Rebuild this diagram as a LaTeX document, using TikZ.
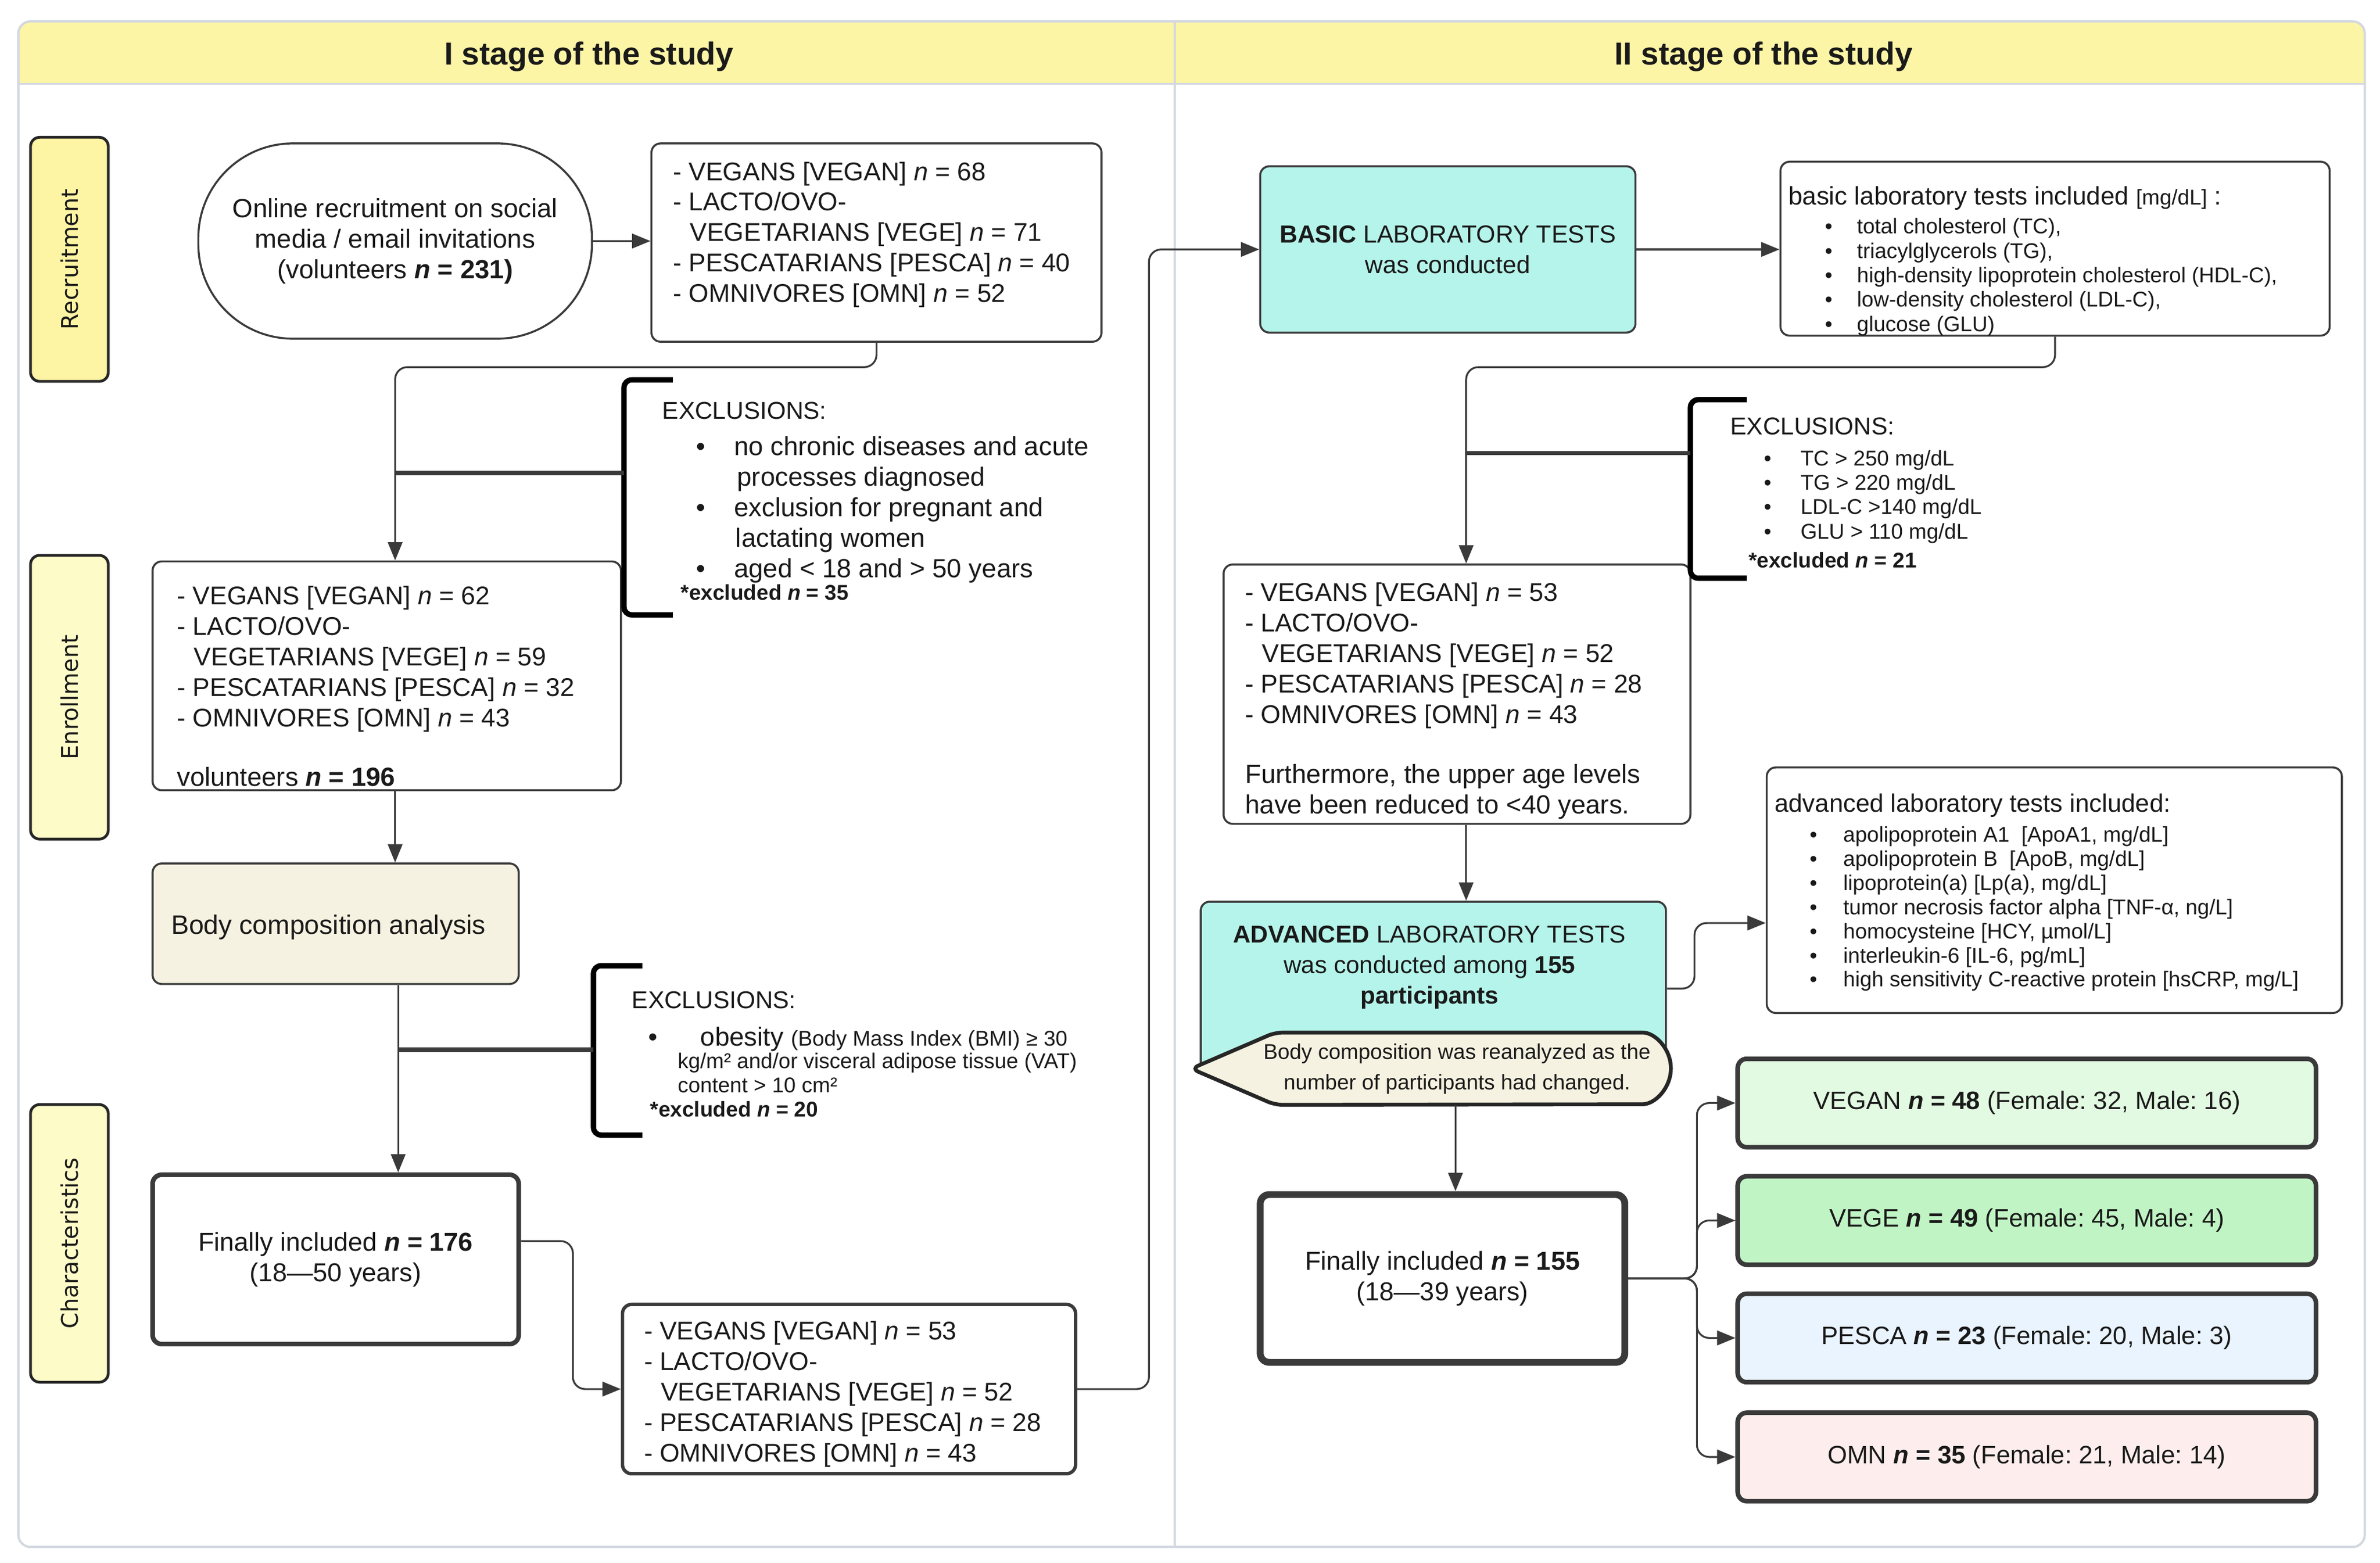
\documentclass[tikz,border=0pt]{standalone}
\usepackage{fontspec}
\setmainfont{Liberation Sans}
\newfontfamily\labfont{DejaVu Sans}
\usetikzlibrary{arrows.meta}
\frenchspacing
\newcommand{\setfs}[2]{\fontsize{#1}{#2}\selectfont}
\newcommand{\nit}{\textit{n}}
\newcommand{\mybul}[1]{\makebox[#1][l]{•}}
\definecolor{hdr}{HTML}{FDF5A6}
\definecolor{framec}{HTML}{D3D8E0}
\definecolor{sideA}{HTML}{FDF5A4}
\definecolor{sideB}{HTML}{FDFBC8}
\definecolor{lc}{HTML}{3A3A3A}
\definecolor{tc}{HTML}{1A1A1A}
\definecolor{aqua}{HTML}{B5F4EA}
\definecolor{beige}{HTML}{F6F2E1}
\definecolor{gA}{HTML}{E3FAE2}
\definecolor{gB}{HTML}{C1F4C4}
\definecolor{gC}{HTML}{EAF4FE}
\definecolor{gD}{HTML}{FDEEED}
\begin{document}
\begin{tikzpicture}[x=1pt,y=-1pt,
  box/.style={draw=lc, line width=1.3pt, rounded corners=6pt, fill=white, inner sep=0pt, text=tc},
  txt/.style={anchor=north west, inner sep=0pt, align=left, font=\setfs{17.2}{20}, yshift=7.8pt, text=tc},
  txtl/.style={anchor=north west, inner sep=0pt, align=left, font=\setfs{16.8}{20}, yshift=8pt, text=tc},
  txtc/.style={anchor=north west, inner sep=0pt, align=left, font=\setfs{16}{20}, yshift=8.3pt, text=tc},
  txts/.style={anchor=north west, inner sep=0pt, align=left, font=\setfs{14}{16}, yshift=6.2pt, text=tc},
  ctxt/.style={anchor=north, inner sep=0pt, align=center, font=\setfs{16}{20}, yshift=8.3pt, text=tc},
  cfont/.style={align=center, font=\setfs{17}{20}},
  arr/.style={draw=lc, line width=1.2pt, -{Triangle[length=12pt,width=9.5pt]}},
  brk/.style={draw=black, line width=3.5pt, rounded corners=5pt},
  thk/.style={draw=lc, line width=3pt},
  side/.style={draw=black!85, line width=1.8pt, rounded corners=6pt, rotate=90, minimum height=51pt, inner sep=0pt, font=\labfont\setfs{15}{18}, text=tc},
  grp/.style={draw=lc, line width=3pt, rounded corners=6pt, minimum width=379pt, minimum height=58pt, font=\setfs{16.5}{20}, text=tc},
  callst/.style={draw=black!85, line width=2.5pt, fill=beige, rounded corners=5pt}
]
\useasboundingbox (0,0) rectangle (1560,1024.5);
\fill[white] (0,0) rectangle (1560,1024.5);
% frame and header
\begin{scope}
\clip[rounded corners=8pt] (12,14) rectangle (1550,1014);
\fill[hdr] (12,14) rectangle (1550,55);
\end{scope}
\draw[framec, line width=1.2pt] (12,55) -- (1550,55);
\draw[framec, line width=1.2pt] (770,14) -- (770,1014);
\draw[framec, line width=1.5pt, rounded corners=8pt] (12,14) rectangle (1550,1014);
\node[font=\bfseries\setfs{20.8}{24}, text=tc] (h1) at (386,37) {I stage of the study};
\node[font=\bfseries\setfs{20.8}{24}, text=tc] (h2) at (1156,37) {II stage of the study};
% side labels
\node[side, fill=sideA, minimum width=160pt] (rec) at (45.5,170) {Recruitment};
\node[side, fill=sideB, minimum width=186pt] (enl) at (45.5,457) {Enrollment};
\node[side, fill=sideB, minimum width=182pt] (cha) at (45.5,815) {Characteristics};

% ---------- Stage I ----------
\node[box, rounded corners=62pt, minimum width=258pt, minimum height=128pt, align=center, font=\setfs{17.2}{20}] (stad) at (259,158)
  {Online recruitment on social\\ media / email invitations\\ (volunteers \textbf{\textit{n} = 231)}};
\node[box, minimum width=295pt, minimum height=130pt] (b1) at (574.5,159) {};
\node[txtl] (b1t) at (441,112) {\strut- VEGANS [VEGAN] \nit{} = 68\\ - LACTO/OVO-\\ \hspace*{11pt}VEGETARIANS [VEGE] \nit{} = 71\\ - PESCATARIANS [PESCA] \nit{} = 40\\ - OMNIVORES [OMN] \nit{} = 52};
\draw[arr] (stad.east) -- (stad.east -| b1.west);

\node[box, minimum width=307pt, minimum height=150pt] (enr) at (253.5,443) {};
\node[txtl] (enrt) at (116,390) {\strut- VEGANS [VEGAN] \nit{} = 62\\ - LACTO/OVO-\\ \hspace*{11pt}VEGETARIANS [VEGE] \nit{} = 59\\ - PESCATARIANS [PESCA] \nit{} = 32\\ - OMNIVORES [OMN] \nit{} = 43};
\node[txt] (enrv) at (116,509) {\strut volunteers \textbf{\textit{n} = 196}};
\coordinate (v1) at ([xshift=5.5pt]enr.north);
\draw[arr, rounded corners=8pt] (b1.south) -- ++(0,16) -| (v1);

\coordinate (br1) at (409,310);
\draw[brk] (441,249) -- (409,249) -- (409,403) -- (441,403);
\draw[thk] (v1 |- br1) -- (br1);
\node[txtc] (ex1t) at (434,269) {\strut EXCLUSIONS:};
\node[txt] (ex1l) at (456,292) {\strut\mybul{25pt}no chronic diseases and acute\\ \hspace*{27pt}processes diagnosed\\ \mybul{25pt}exclusion for pregnant and\\ \hspace*{26pt}lactating women\\ \mybul{25pt}aged < 18 and > 50 years};
\node[txts, font=\bfseries\setfs{14}{16}] (ex1n) at (446,388) {\strut*excluded \textit{n} = 35};

\node[box, fill=beige, minimum width=240pt, minimum height=79pt] (body) at (220,605.5) {};
\node[txt, font=\setfs{17.5}{20}] (bodyt) at (112,606) {\strut Body composition analysis};
\coordinate (v2) at ([xshift=5.5pt]enr.south);
\draw[arr] (v2) -- (v2 |- body.north);

\node[box, line width=3pt, minimum width=240pt, minimum height=111pt, cfont] (fin1) at (220,825.5)
  {Finally included \textbf{\textit{n} = 176}\\ (18—50 years)};
\coordinate (v3) at ([xshift=41pt]body.south);
\draw[arr] (v3) -- (v3 |- fin1.north);
\coordinate (br2) at (389,688);
\draw[brk] (421,633) -- (389,633) -- (389,744) -- (421,744);
\draw[thk] (v3 |- br2) -- (br2);
\node[txtc] (ex2t) at (414,655) {\strut EXCLUSIONS:};
\node[txt] (ex2a) at (425,679) {\strut\mybul{34pt}obesity {\setfs{14}{16}(Body Mass Index (BMI) ≥ 30}};
\node[txts] (ex2b) at (444,695) {\strut kg/m² and/or visceral adipose tissue (VAT)\\ content > 10 cm²};
\node[txts, font=\bfseries\setfs{14}{16}] (ex2n) at (426,727) {\strut*excluded \textit{n} = 20};

\node[box, line width=2.2pt, minimum width=297pt, minimum height=111pt] (b4) at (556.5,910.5) {};
\node[txtl] (b4t) at (422,872) {\strut- VEGANS [VEGAN] \nit{} = 53\\ - LACTO/OVO-\\ \hspace*{11pt}VEGETARIANS [VEGE] \nit{} = 52\\ - PESCATARIANS [PESCA] \nit{} = 28\\ - OMNIVORES [OMN] \nit{} = 43};
\draw[arr, rounded corners=8pt] ([yshift=12pt]fin1.east) -- ++(34,0) |- (b4.west);

% ---------- Stage II ----------
\node[box, fill=aqua, minimum width=246pt, minimum height=109pt, align=center, font=\setfs{16.2}{20}] (basic) at (949,163.5)
  {\textbf{BASIC} LABORATORY TESTS\\ was conducted};
\draw[arr, rounded corners=8pt] (b4.east) -- ++(47,0) |- (basic.west);

\node[box, minimum width=360pt, minimum height=114pt] (blt) at (1347,163) {};
\node[txt, font=\setfs{16.6}{20}] (bltt) at (1172,128) {\strut basic laboratory tests included {\setfs{14}{16}[mg/dL]} :};
\node[txts] (bltl) at (1196,148) {\strut\mybul{21pt}total cholesterol (TC),\\ \mybul{21pt}triacylglycerols (TG),\\ \mybul{21pt}high-density lipoprotein cholesterol (HDL-C),\\ \mybul{21pt}low-density cholesterol (LDL-C),\\ \mybul{21pt}glucose (GLU)};
\draw[arr] (basic.east) -- (basic.east -| blt.west);

\node[box, minimum width=306pt, minimum height=170pt] (b5) at (955,455) {};
\node[txtl] (b5t) at (816,388) {\strut- VEGANS [VEGAN] \nit{} = 53\\ - LACTO/OVO-\\ \hspace*{11pt}VEGETARIANS [VEGE] \nit{} = 52\\ - PESCATARIANS [PESCA] \nit{} = 28\\ - OMNIVORES [OMN] \nit{} = 43};
\node[txt] (b5f) at (816,507) {\strut Furthermore, the upper age levels\\ have been reduced to <40 years.};
\coordinate (v4) at ([xshift=6pt]b5.north);
\draw[arr, rounded corners=8pt] (blt.south) -- ++(0,20) -| (v4);

\coordinate (br3) at (1108,297);
\draw[brk] (1145,262) -- (1108,262) -- (1108,379) -- (1145,379);
\draw[thk] (v4 |- br3) -- (br3);
\node[txtc] (ex3t) at (1134,279) {\strut EXCLUSIONS:};
\node[txts] (ex3l) at (1156,300) {\strut\mybul{24pt}TC > 250 mg/dL\\ \mybul{24pt}TG > 220 mg/dL\\ \mybul{24pt}LDL-C >140 mg/dL\\ \mybul{24pt}GLU > 110 mg/dL};
\node[txts, font=\bfseries\setfs{14}{16}] (ex3n) at (1146,367) {\strut*excluded \textit{n} = 21};

\node[box, fill=aqua, minimum width=305pt, minimum height=114pt] (adv) at (939.5,648) {};
\node[ctxt] (advt) at (937,612) {\strut\textbf{ADVANCED} LABORATORY TESTS\\ was conducted among \textbf{155}\\ \textbf{participants}};
\coordinate (v5) at ([xshift=6pt]b5.south);
\draw[arr] (v5) -- (v5 |- adv.north);

\node[box, minimum width=377pt, minimum height=161pt] (alt) at (1346.5,583.5) {};
\node[txt, font=\setfs{16.5}{20}] (altt) at (1163,526) {\strut advanced laboratory tests included:};
\node[txts, font=\setfs{14}{15.8}] (altl) at (1186,547) {\strut\mybul{22pt}apolipoprotein A1\ \ [ApoA1, mg/dL]\\ \mybul{22pt}apolipoprotein B\ \ [ApoB, mg/dL]\\ \mybul{22pt}lipoprotein(a) [Lp(a), mg/dL]\\ \mybul{22pt}tumor necrosis factor alpha [TNF-α, ng/L]\\ \mybul{22pt}homocysteine [HCY, µmol/L]\\ \mybul{22pt}interleukin-6 [IL-6, pg/mL]\\ \mybul{22pt}high sensitivity C-reactive protein [hsCRP, mg/L]};
\draw[arr, rounded corners=8pt] (adv.east) -- ++(18,0) |- ([yshift=-21.5pt]alt.west);

\node[minimum width=314pt, minimum height=47pt, inner sep=0pt] (call) at (938,700.5) {};
\draw[callst] (call.west) -- ([xshift=55pt]call.north west) -- ([xshift=-23.5pt]call.north east)
  arc[start angle=90, end angle=-90, radius=23.5pt] -- ([xshift=55pt]call.south west) -- cycle;
\node[font=\setfs{14}{20}, align=center, text=tc] (callt) at (955,700.5) {Body composition was reanalyzed as the\\ number of participants had changed.};

\node[box, line width=4.5pt, minimum width=239pt, minimum height=110pt, cfont] (fin2) at (945.5,838)
  {Finally included \textbf{\textit{n} = 155}\\ (18—39 years)};
\coordinate (v6) at ([xshift=16pt]call.south);
\draw[arr] (v6) -- (v6 |- fin2.north);

\node[grp, fill=gA] (g1) at (1328.5,723) {VEGAN \textbf{\textit{n} = 48} (Female: 32, Male: 16)};
\node[grp, fill=gB] (g2) at (1328.5,800) {VEGE \textbf{\textit{n} = 49} (Female: 45, Male: 4)};
\node[grp, fill=gC] (g3) at (1328.5,877) {PESCA \textbf{\textit{n} = 23} (Female: 20, Male: 3)};
\node[grp, fill=gD] (g4) at (1328.5,955) {OMN \textbf{\textit{n} = 35} (Female: 21, Male: 14)};
\foreach \g in {g1,g2,g3,g4}
  \draw[arr, rounded corners=8pt] (fin2.east) -- ++(45,0) |- (\g.west);
\end{tikzpicture}
\end{document}
